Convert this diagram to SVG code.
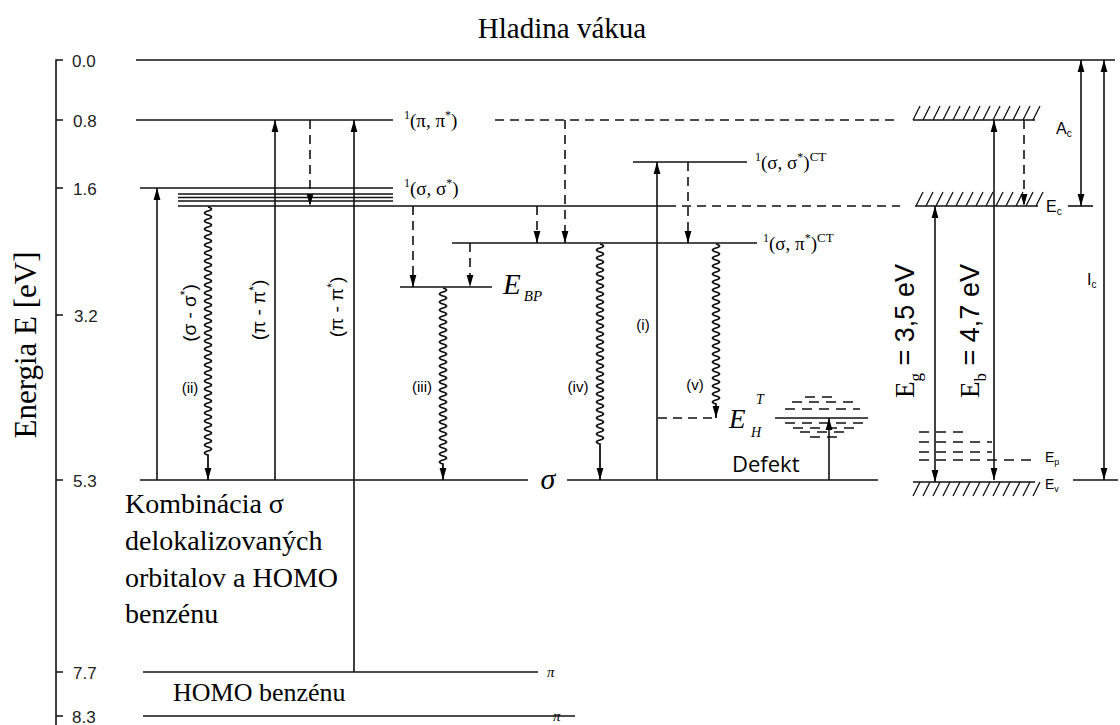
<svg xmlns="http://www.w3.org/2000/svg" width="1120" height="725" viewBox="0 0 1120 725">
<defs>
<marker id="ah" viewBox="0 0 12 8" refX="12" refY="4" markerWidth="12" markerHeight="8" markerUnits="userSpaceOnUse" orient="auto-start-reverse"><path d="M0 0.6 L12 4 L0 7.4 Z" fill="#000"/></marker>
<style>
.ln{stroke:#111;stroke-width:1.6;fill:none}
.th{stroke:#111;stroke-width:1.3;fill:none}
.dash{stroke-dasharray:9 6}
.dsh2{stroke-dasharray:10 7}
.wv{stroke:#111;stroke-width:1.8;fill:none}
.ar{marker-end:url(#ah)}
.ar2{marker-start:url(#ah);marker-end:url(#ah)}
.serif{font-family:"Liberation Serif","Times New Roman",serif;fill:#000}
.sans{font-family:"Liberation Sans",Arial,sans-serif;fill:#000}
.tick{font-family:"Liberation Sans",Arial,sans-serif;font-size:17px;fill:#222}
.lab{font-family:"Liberation Serif","Times New Roman",serif;font-size:19px;fill:#000}
.sm{font-family:"Liberation Sans",Arial,sans-serif;font-size:15px;fill:#000}
.rot{font-family:"Liberation Sans",Arial,sans-serif;font-size:19px;fill:#000}
</style>
</defs>
<rect width="1120" height="725" fill="#fff"/>

<text class="serif" x="562" y="38" font-size="29" text-anchor="middle">Hladina vákua</text>

<g id="axis">
<path class="ln" d="M63 60 H56 V725 M56 120 H63 M56 188 H63 M56 315 H63 M56 480 H63 M56 672 H63 M56 716 H63"/>
<text class="tick" x="72" y="67">0.0</text>
<text class="tick" x="73" y="127">0.8</text>
<text class="tick" x="73" y="195">1.6</text>
<text class="tick" x="74" y="322">3.2</text>
<text class="tick" x="73" y="487">5.3</text>
<text class="tick" x="73" y="679">7.7</text>
<text class="tick" x="72" y="723">8.3</text>
<text class="serif" font-size="31" text-anchor="middle" transform="translate(36,345) rotate(-90)">Energia E [eV]</text>
</g>

<g id="level-vacuum"><path class="ln" d="M136 60 H1115"/></g>

<g id="level-pipi">
<path class="ln" d="M136 120 H393"/>
<text class="lab" x="404" y="127"><tspan font-size="12" dy="-8">1</tspan><tspan dy="8">(π, π</tspan><tspan font-size="12" dy="-8">*</tspan><tspan dy="8">)</tspan></text>
<path class="ln dash" d="M495 120 H900"/>
</g>

<g id="level-sigsig">
<path class="ln" d="M140 188 H393"/>
<path class="th" d="M178 194 H393 M178 197.5 H393 M178 201 H393"/>
<path class="ln" d="M178 206 H667"/>
<path class="ln dash" d="M667 206 H900"/>
<text class="lab" x="404" y="195"><tspan font-size="12" dy="-8">1</tspan><tspan dy="8">(σ, σ</tspan><tspan font-size="12" dy="-8">*</tspan><tspan dy="8">)</tspan></text>
</g>

<g id="level-sigsig-ct">
<path class="ln" d="M633 162 H747"/>
<text class="lab" x="755" y="169"><tspan font-size="12" dy="-8">1</tspan><tspan dy="8">(σ, σ</tspan><tspan font-size="12" dy="-8">*</tspan><tspan dy="8">)</tspan><tspan font-size="13" dy="-8">CT</tspan></text>
</g>

<g id="level-sigpi-ct">
<path class="ln" d="M452 243 H757"/>
<text class="lab" x="763" y="250"><tspan font-size="12" dy="-8">1</tspan><tspan dy="8">(σ, π</tspan><tspan font-size="12" dy="-8">*</tspan><tspan dy="8">)</tspan><tspan font-size="13" dy="-8">CT</tspan></text>
</g>

<g id="level-ebp">
<path class="ln" d="M400 287 H492"/>
<text class="serif" x="503" y="294" font-size="29" font-style="italic">E<tspan font-size="15" dx="3" dy="7">BP</tspan></text>
</g>

<g id="level-eht">
<path class="ln dash" d="M658 418 H717"/>
<text class="serif" x="729" y="428" font-size="27" font-style="italic">E</text>
<text class="serif" x="756" y="404" font-size="14" font-style="italic">T</text>
<text class="serif" x="751" y="437" font-size="14" font-style="italic">H</text>
</g>

<g id="defekt">
<path class="th dsh2" d="M805 397 H835 M792 402 H855 M785 409 H860 M785 423 H867 M793 428 H858 M800 432 H850 M810 437 H840"/>
<path class="ln" d="M775 418 H868"/>
<text x="732" y="472" font-family="'Open Sans','Liberation Sans',sans-serif" font-size="22" fill="#000">Defekt</text>
</g>

<g id="level-sigma">
<path class="ln" d="M140 480 H528 M567 480 H878"/>
<text class="serif" x="548" y="489" font-size="30" font-style="italic" text-anchor="middle">σ</text>
</g>

<g id="level-pi">
<path class="ln" d="M143 672 H538"/>
<text class="serif" x="547" y="677" font-size="15" font-style="italic">π</text>
</g>
<g id="level-pi2">
<path class="ln" d="M143 716 H575"/>
<text class="serif" x="553" y="721" font-size="15" font-style="italic">π</text>
</g>

<g id="band-top">
<path class="ln" d="M913 120 H1035"/>
<path class="th" d="M913 120 l7 -14 m3 14 l7 -14 m3 14 l7 -14 m3 14 l7 -14 m3 14 l7 -14 m3 14 l7 -14 m3 14 l7 -14 m3 14 l7 -14 m3 14 l7 -14 m3 14 l7 -14 m3 14 l7 -14 m3 14 l7 -14 m3 14 l7 -14"/>
</g>
<g id="band-ec">
<path class="ln" d="M915 206 H1038"/>
<path class="th" d="M916 206 l7 -14 m3 14 l7 -14 m3 14 l7 -14 m3 14 l7 -14 m3 14 l7 -14 m3 14 l7 -14 m3 14 l7 -14 m3 14 l7 -14 m3 14 l7 -14 m3 14 l7 -14 m3 14 l7 -14 m3 14 l7 -14 m3 14 l7 -14"/>
<text class="sans" x="1046" y="212" font-size="16">E<tspan font-size="10" dy="3">c</tspan></text>
<path class="ln" d="M1068 206 H1093"/>
</g>
<g id="band-ev">
<path class="ln" d="M913 482 H1035"/>
<path class="th" d="M920 482 l-7 14 m17 -14 l-7 14 m17 -14 l-7 14 m17 -14 l-7 14 m17 -14 l-7 14 m17 -14 l-7 14 m17 -14 l-7 14 m17 -14 l-7 14 m17 -14 l-7 14 m17 -14 l-7 14 m17 -14 l-7 14 m17 -14 l-7 14 m17 -14 l-7 14"/>
<text class="sans" x="1045" y="489" font-size="14">E<tspan font-size="9" dy="3">v</tspan></text>
<path class="ln" d="M1073 480 H1118"/>
</g>
<g id="band-ep">
<path class="th dsh2" d="M919 432 H968 M919 442 H992 M919 452 H992 M919 460 H1035"/>
<text class="sans" x="1045" y="462" font-size="14">E<tspan font-size="9" dy="3">p</tspan></text>
</g>

<g id="connectors">
<path class="ln ar" d="M157 480 V188"/>
<path class="wv ar" d="M208 207q7 2 0 4t0 4t0 4t0 4t0 4t0 4t0 4t0 4t0 4t0 4t0 4t0 4t0 4t0 4t0 4t0 4t0 4t0 4t0 4t0 4t0 4t0 4t0 4t0 4t0 4t0 4t0 4t0 4t0 4t0 4t0 4t0 4t0 4t0 4t0 4t0 4t0 4t0 4t0 4t0 4t0 4t0 4t0 4t0 4t0 4t0 4t0 4t0 4t0 4t0 4t0 4t0 4t0 4t0 4t0 4t0 4t0 4t0 4t0 4t0 4t0 4t0 4V480"/>
<path class="ln ar" d="M275 480 V120"/>
<path class="ln dash ar" d="M310 120 V206"/>
<path class="ln ar" d="M354 672 V120"/>
<path class="ln dash ar" d="M413 206 V287"/>
<path class="ln dash ar" d="M470 243 V287"/>
<path class="ln dash ar" d="M537 206 V243"/>
<path class="ln dash ar" d="M565 120 V243"/>
<path class="wv ar" d="M443 288q7 2 0 4t0 4t0 4t0 4t0 4t0 4t0 4t0 4t0 4t0 4t0 4t0 4t0 4t0 4t0 4t0 4t0 4t0 4t0 4t0 4t0 4t0 4t0 4t0 4t0 4t0 4t0 4t0 4t0 4t0 4t0 4t0 4t0 4t0 4t0 4t0 4t0 4t0 4t0 4t0 4t0 4t0 4t0 4t0 4V480"/>
<path class="wv ar" d="M600 244q7 2 0 4t0 4t0 4t0 4t0 4t0 4t0 4t0 4t0 4t0 4t0 4t0 4t0 4t0 4t0 4t0 4t0 4t0 4t0 4t0 4t0 4t0 4t0 4t0 4t0 4t0 4t0 4t0 4t0 4t0 4t0 4t0 4t0 4t0 4t0 4t0 4t0 4t0 4t0 4t0 4t0 4t0 4t0 4t0 4t0 4t0 4t0 4t0 4t0 4t0 4V480"/>
<path class="ln ar" d="M657 480 V162"/>
<path class="ln dash ar" d="M688 162 V243"/>
<path class="wv ar" d="M716 244q7 2 0 4t0 4t0 4t0 4t0 4t0 4t0 4t0 4t0 4t0 4t0 4t0 4t0 4t0 4t0 4t0 4t0 4t0 4t0 4t0 4t0 4t0 4t0 4t0 4t0 4t0 4t0 4t0 4t0 4t0 4t0 4t0 4t0 4t0 4t0 4t0 4t0 4t0 4t0 4t0 4V418"/>
<path class="ln ar" d="M829 480 V418"/>
<path class="ln ar2" d="M935 206 V482"/>
<path class="ln ar2" d="M994 120 V480"/>
<path class="ln dash ar" d="M1024 120 V206"/>
<path class="ln ar2" d="M1081 60 V206"/>
<path class="ln ar2" d="M1104 60 V480"/>
</g>

<g id="transition-labels">
<text class="rot" text-anchor="middle" transform="translate(196,313) rotate(-90)">(σ - σ<tspan font-size="12" dy="-7">*</tspan><tspan dy="7">)</tspan></text>
<text class="rot" text-anchor="middle" transform="translate(265,310) rotate(-90)">(π - π<tspan font-size="12" dy="-7">*</tspan><tspan dy="7">)</tspan></text>
<text class="rot" text-anchor="middle" transform="translate(343,307) rotate(-90)">(π - π<tspan font-size="12" dy="-7">*</tspan><tspan dy="7">)</tspan></text>
<text class="sm" x="190" y="393" text-anchor="middle">(ii)</text>
<text class="sm" x="422" y="392" text-anchor="middle">(iii)</text>
<text class="sm" x="578" y="392" text-anchor="middle">(iv)</text>
<text class="sm" x="643" y="330" text-anchor="middle">(i)</text>
<text class="sm" x="695" y="390" text-anchor="middle">(v)</text>
</g>

<g id="band-labels">
<text class="serif" font-size="27" text-anchor="middle" transform="translate(914,331) rotate(-90)">E<tspan font-size="17" dy="7">g</tspan><tspan dy="-7" font-family="'Liberation Sans',Arial,sans-serif"> = 3,5 eV</tspan></text>
<text class="serif" font-size="27" text-anchor="middle" transform="translate(979,331) rotate(-90)">E<tspan font-size="17" dy="7">b</tspan><tspan dy="-7" font-family="'Liberation Sans',Arial,sans-serif"> = 4,7 eV</tspan></text>
<text class="sans" x="1056" y="134" font-size="16">A<tspan font-size="10" dy="3">c</tspan></text>
<text class="sans" x="1087" y="285" font-size="16">I<tspan font-size="10" dy="3">c</tspan></text>
</g>

<g id="notes">
<text class="serif" font-size="28"><tspan x="125" y="513">Kombinácia σ</tspan><tspan x="125" y="550">delokalizovaných</tspan><tspan x="125" y="587">orbitalov a HOMO</tspan><tspan x="125" y="623">benzénu</tspan></text>
<text class="serif" x="173" y="701" font-size="26">HOMO benzénu</text>
</g>
</svg>
